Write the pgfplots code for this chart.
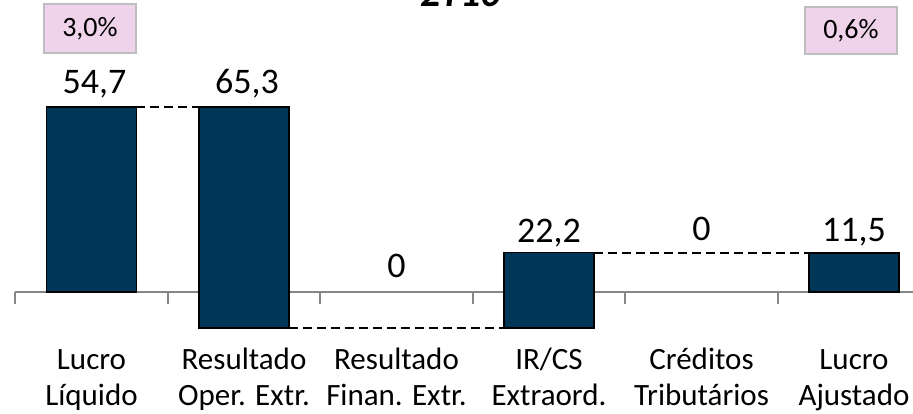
\documentclass[border=0pt]{standalone}
\usepackage{pgfplots}
\pgfplotsset{compat=1.18}
\usepackage{fontspec}
\setmainfont{Carlito}
\definecolor{barcol}{RGB}{0,54,88}
\definecolor{axisgray}{RGB}{134,134,134}
\definecolor{boxpink}{RGB}{238,211,234}
\definecolor{boxline}{RGB}{190,190,190}
\pgfplotsset{common/.style={
  at={(0,0)}, anchor=south west,
  scale only axis, width=915pt, height=338.5pt,
  xmin=-0.5, xmax=5.5, ymin=-20, ymax=80,
  clip=false}}
\begin{document}
\begin{tikzpicture}
\path[use as bounding box, clip] (-15.25pt,-53.3pt) rectangle (897.75pt,359.7pt);
\begin{axis}[
  common,
  axis x line=middle, axis y line=none,
  axis line style={draw=axisgray, line width=2pt, -},
  ybar stacked, stack negative=on previous, bar width=90pt,
  xtick={0,1,2,3,4,5},
  xticklabels={{\strut Lucro\\\strut Líquido},{\strut Resultado\\\strut Oper. Extr.},{\strut Resultado\\\strut Finan. Extr.},{\strut IR/CS\\\strut Extraord.},{\strut Créditos\\\strut Tributários},{\strut Lucro\\\strut Ajustado}},
  xticklabel style={align=center, inner sep=0pt, yshift=-52pt, font=\fontsize{31pt}{36pt}\selectfont},
  major tick length=0pt,
  minor xtick={-0.5,0.5,1.5,2.5,3.5,4.5,5.5},
  minor tick length=12pt,
  xtick align=outside,
  minor tick style={draw=axisgray, line width=2pt},
]
\addplot[draw=none, fill=none] coordinates {(0,0) (1,-10.6) (3,-10.6) (5,0)};
\addplot[fill=barcol, draw=black, line width=1.5pt] coordinates {(0,54.7) (1,65.3) (3,22.2) (5,11.5)};
\end{axis}
\begin{axis}[common, hide axis]
\addplot[no marks, black, line width=2pt, dash pattern=on 9pt off 5pt] coordinates {(0.295,54.7) (0.705,54.7)};
\addplot[no marks, black, line width=2pt, dash pattern=on 9pt off 5pt] coordinates {(1.295,-10.6) (2.705,-10.6)};
\addplot[no marks, black, line width=2pt, dash pattern=on 9pt off 5pt] coordinates {(3.295,11.6) (4.705,11.6)};
\begin{scope}[every node/.style={anchor=base, inner sep=0pt, font=\fontsize{36pt}{40pt}\selectfont}]
\node[yshift=13pt] at (axis cs:0.02,54.7) {54,7};
\node[yshift=13pt] at (axis cs:1.02,54.7) {65,3};
\node[yshift=15pt] at (axis cs:2,0) {0};
\node[yshift=10pt] at (axis cs:3,11.6) {22,2};
\node[yshift=12pt] at (axis cs:4,11.6) {0};
\node[yshift=12pt] at (axis cs:5,11.5) {11,5};
\end{scope}
\node[fill=boxpink, draw=boxline, line width=1.5pt, minimum width=92pt, minimum height=49pt, inner sep=0pt, font=\fontsize{28pt}{32pt}\selectfont] at (axis cs:-0.01,77.8) {3,0\%};
\node[fill=boxpink, draw=boxline, line width=1.5pt, minimum width=92pt, minimum height=47pt, inner sep=0pt, font=\fontsize{28pt}{32pt}\selectfont] at (axis cs:4.98,77.3) {0,6\%};
\node[anchor=base, inner sep=0pt, font=\fontsize{40pt}{44pt}\selectfont\bfseries\itshape] at (axis cs:2.42,84.4) {2T10};
\end{axis}
\end{tikzpicture}
\end{document}
